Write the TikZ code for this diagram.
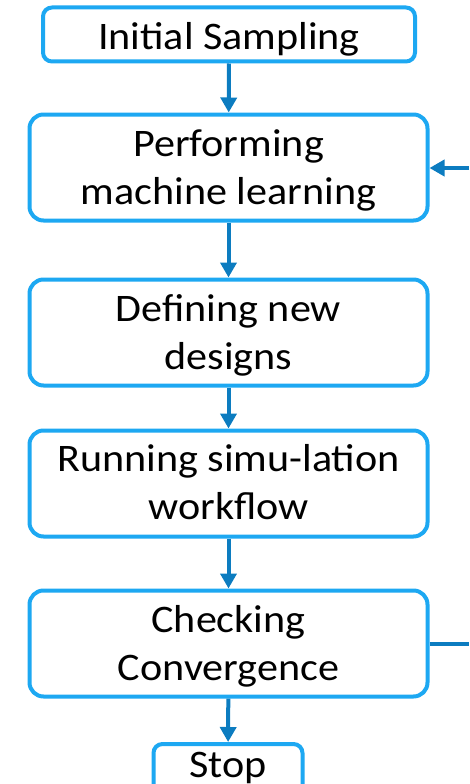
\documentclass[tikz,border=0pt]{standalone}
\usepackage{fontspec}
\setmainfont{Carlito}
\usetikzlibrary{arrows.meta}
\definecolor{boxblue}{RGB}{29,168,242}
\definecolor{flowblue}{RGB}{12,124,192}
\tikzset{
  stepbox/.style={draw=boxblue, line width=4pt, rounded corners=14pt, fill=white,
    minimum width=398pt, minimum height=106pt, inner sep=0pt},
  smallbox/.style={stepbox, rounded corners=9pt},
  txt/.style={anchor=base, inner sep=0pt, text=black,
    font=\fontsize{39}{48}\selectfont, xscale=1.08, transform shape},
  flow/.style={draw=flowblue, line width=4pt, -{Triangle[length=15pt,width=16pt]}},
  flowline/.style={draw=flowblue, line width=4pt}
}
\begin{document}
\begin{tikzpicture}[x=1pt,y=-1pt]
\useasboundingbox (0,0) rectangle (469,784);
\clip (0,0) rectangle (469,784);
% boxes
\node[smallbox, minimum width=372pt, minimum height=54pt] (init) at (229,34.5) {};
\node[stepbox] (ml) at (228.5,167.5) {};
\node[stepbox] (def) at (228.5,332.5) {};
\node[stepbox] (run) at (228.5,483.5) {};
\node[stepbox] (conv) at (228.5,643.5) {};
\node[smallbox, minimum width=149pt, minimum height=52pt] (stop) at (228,770) {};
% box texts, placed on their baselines
\node[txt] (initA) at ([yshift=-15.5pt]init.center) {Initial Sampling};
\node[txt] (mlA) at ([yshift=11.5pt]ml.center) {Performing};
\node[txt] (mlB) at ([yshift=-36.5pt]ml.center) {machine learning};
\node[txt] (defA) at ([yshift=11.5pt]def.center) {Defining new};
\node[txt] (defB) at ([yshift=-36.5pt]def.center) {designs};
\node[txt] (runA) at ([yshift=12.5pt]run.center) {Running simu-lation};
\node[txt] (runB) at ([yshift=-35.5pt]run.center) {workflow};
\node[txt] (convA) at ([yshift=11.5pt]conv.center) {Checking};
\node[txt] (convB) at ([yshift=-36.5pt]conv.center) {Convergence};
\node[txt] (stopA) at ([yshift=-7pt]stop.center) {Stop};
% connectors
\coordinate (loopin) at (469,168);
\coordinate (loopout) at (469,643.5);
\draw[flow] (init) -- (ml);
\draw[flow] (ml) -- (def);
\draw[flow] (def) -- (run);
\draw[flow] (run) -- (conv);
\draw[flow] (conv) -- (stop);
\draw[flowline] (conv.east) -- (loopout);
\draw[flow] (loopin) -- (ml.east |- loopin);
\end{tikzpicture}
\end{document}
